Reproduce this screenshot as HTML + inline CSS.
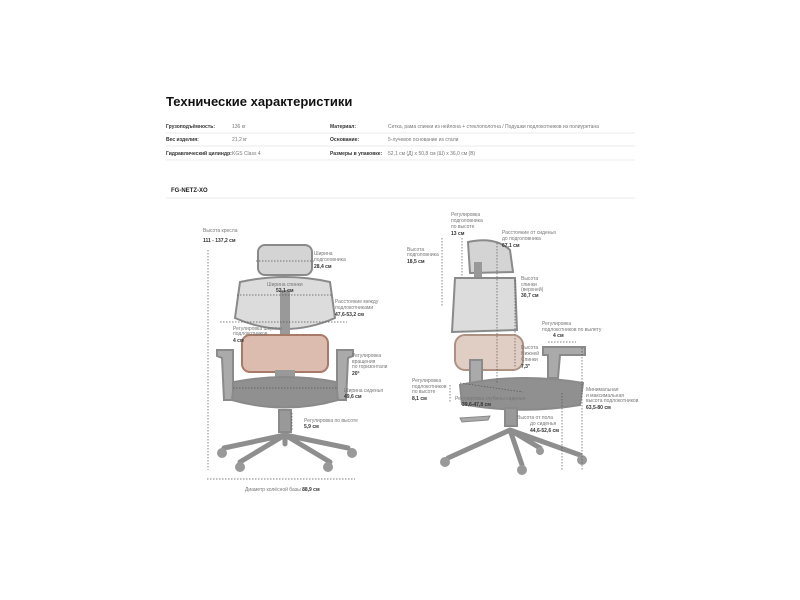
<!DOCTYPE html>
<html><head><meta charset="utf-8"><style>
body{margin:0;background:#fff;width:800px;height:600px;overflow:hidden}
svg{display:block}
text{font-family:"Liberation Sans",sans-serif;fill:#777;font-size:5px}
.b{font-weight:bold;fill:#333}
</style></head><body>
<svg width="800" height="600" viewBox="0 0 800 600">
<text x="166" y="106" style="font-size:13px;font-weight:bold;fill:#111">Технические характеристики</text>
<g style="font-size:4.5px">
<text x="166" y="128" class="b">Грузоподъёмность:</text><text x="232" y="128">136 кг</text>
<text x="330" y="128" class="b">Материал:</text><text x="388" y="128">Сетка, рама спинки из нейлона + стеклополотна / Подушки подлокотников из полиуретана</text>
<text x="166" y="141" class="b">Вес изделия:</text><text x="232" y="141">21,2 кг</text>
<text x="330" y="141" class="b">Основание:</text><text x="388" y="141">5-лучевое основание из стали</text>
<text x="166" y="155" class="b">Гидравлический цилиндр:</text><text x="232" y="155">KGS Class 4</text>
<text x="330" y="155" class="b">Размеры в упаковке:</text><text x="388" y="155">52,1 см (Д) x 50,8 см (Ш) x 36,0 см (В)</text>
</g>
<g stroke="#e4e4e4" stroke-width="0.8">
<line x1="166" y1="133" x2="635" y2="133"/><line x1="166" y1="146" x2="635" y2="146"/><line x1="166" y1="160" x2="635" y2="160"/><line x1="166" y1="198" x2="635" y2="198"/>
</g>
<text x="171" y="192" style="font-size:6px;font-weight:bold;fill:#222">FG-NETZ-XO</text>

<!-- front chair -->
<g fill="#d4d4d4" stroke="#8a8a8a" stroke-width="2">
<rect x="258" y="245" width="54" height="30" rx="7"/>
<path d="M240 282 Q285 272 330 282 L335 318 Q285 340 235 318Z" fill="#dcdcdc"/>
<rect x="280" y="290" width="10" height="50" fill="#999" stroke="none"/>
<rect x="242" y="335" width="86" height="37" rx="8" fill="#dcbcae" stroke="#a87a68"/>
<rect x="275" y="370" width="20" height="12" fill="#999" stroke="none"/>
<path d="M217 350 L233 350 L233 400 L224 400 L222 358 L217 356Z" fill="#aaa"/>
<path d="M337 350 L353 350 L353 356 L348 358 L346 400 L337 400Z" fill="#aaa"/>
<path d="M234 382 Q285 372 336 382 L338 400 Q285 415 232 400Z" fill="#909090"/>
<rect x="279" y="410" width="12" height="22" fill="#999"/>
</g>
<g stroke="#8e8e8e" stroke-width="5" stroke-linecap="round" fill="none">
<path d="M285 435 L240 462 M285 435 L330 462 M285 435 L224 448 M285 435 L348 448 M285 435 L285 444"/>
</g>
<g fill="#999"><circle cx="240" cy="467" r="5"/><circle cx="328" cy="467" r="5"/><circle cx="222" cy="453" r="5"/><circle cx="352" cy="453" r="5"/></g>
<g stroke="#555" stroke-width="0.7" stroke-dasharray="1.5,1.5" fill="none">
<line x1="208" y1="250" x2="208" y2="470"/><line x1="207" y1="479" x2="355" y2="479"/>
<line x1="256" y1="261" x2="314" y2="261"/><line x1="237" y1="295" x2="333" y2="295"/>
<line x1="220" y1="322" x2="347" y2="322"/><line x1="233" y1="388" x2="337" y2="388"/>
<line x1="292" y1="413" x2="292" y2="430"/>
</g>
<text x="203" y="232">Высота кресла</text><text x="203" y="242" class="b">111 - 137,2 см</text>
<text x="314" y="255">Ширина</text><text x="314" y="261">подголовника</text><text x="314" y="268" class="b">28,4 см</text>
<text x="267" y="286">Ширина спинки</text><text x="276" y="292" class="b">52,1 см</text>
<text x="335" y="303">Расстояние между</text><text x="335" y="309">подлокотниками</text><text x="335" y="316" class="b">47,6-53,2 см</text>
<text x="233" y="330">Регулировка ширины</text><text x="233" y="335">подлокотников</text><text x="233" y="342" class="b">4 см</text>
<text x="352" y="357">Регулировка</text><text x="352" y="363">вращения</text><text x="352" y="368">по горизонтали</text><text x="352" y="375" class="b">20°</text>
<text x="344" y="392">Ширина сиденья</text><text x="344" y="398" class="b">49,6 см</text>
<text x="304" y="422">Регулировка по высоте</text><text x="304" y="428" class="b">5,9 см</text>
<text x="245" y="491">Диаметр колёсной базы <tspan class="b">88,9 см</tspan></text>

<!-- side chair -->
<g fill="#d4d4d4" stroke="#8a8a8a" stroke-width="2">
<path d="M468 242 Q495 236 510 250 L513 272 L470 273Z"/>
<rect x="474" y="262" width="8" height="40" fill="#999" stroke="none"/>
<path d="M455 278 L515 278 L517 330 L452 332Z" fill="#dcdcdc"/>
<rect x="455" y="335" width="68" height="35" rx="10" fill="#e0cdc4" stroke="#ad9284"/>
<rect x="470" y="360" width="12" height="25" fill="#aaa"/>
<path d="M543 347 L585 347 L585 355 L560 355 L558 378 L548 378 L548 355 L543 355Z" fill="#aaa"/>
<path d="M460 385 Q520 372 583 383 L580 405 Q520 415 462 404Z" fill="#909090"/>
<rect x="505" y="408" width="12" height="18" fill="#999"/>
<path d="M460 418 L490 416 L488 420 L462 422Z" fill="#aaa" stroke-width="1"/>
</g>
<g stroke="#8e8e8e" stroke-width="5" stroke-linecap="round" fill="none">
<path d="M510 430 L448 458 M510 430 L522 465 M510 430 L580 455 M510 430 L540 448"/>
</g>
<g fill="#999"><circle cx="445" cy="462" r="5"/><circle cx="522" cy="470" r="5"/><circle cx="582" cy="460" r="5"/><circle cx="540" cy="451" r="4"/></g>
<g stroke="#555" stroke-width="0.7" stroke-dasharray="1.5,1.5" fill="none">
<line x1="442" y1="238" x2="442" y2="307"/><line x1="462" y1="238" x2="462" y2="276"/>
<line x1="497" y1="243" x2="497" y2="384"/><line x1="515" y1="280" x2="515" y2="335"/>
<line x1="515" y1="338" x2="515" y2="368"/><line x1="548" y1="342" x2="576" y2="342"/>
<line x1="582" y1="348" x2="582" y2="470"/><line x1="562" y1="393" x2="562" y2="470"/>
<line x1="450" y1="385" x2="450" y2="403"/><line x1="460" y1="383" x2="523" y2="392"/>
</g>
<text x="451" y="216">Регулировка</text><text x="451" y="222">подголовника</text><text x="451" y="228">по высоте</text><text x="451" y="235" class="b">13 см</text>
<text x="502" y="234">Расстояние от сиденья</text><text x="502" y="240">до подголовника</text><text x="502" y="247" class="b">67,1 см</text>
<text x="407" y="251">Высота</text><text x="407" y="256">подголовника</text><text x="407" y="263" class="b">18,5 см</text>
<text x="521" y="280">Высота</text><text x="521" y="286">спинки</text><text x="521" y="291">(верхней)</text><text x="521" y="297" class="b">30,7 см</text>
<text x="542" y="325">Регулировка</text><text x="542" y="331">подлокотников по вылету</text><text x="553" y="337" class="b">4 см</text>
<text x="521" y="349">Высота</text><text x="521" y="355">Нижней</text><text x="521" y="361">Спинки</text><text x="521" y="368" class="b">7,3"</text>
<text x="412" y="382">Регулировка</text><text x="412" y="388">подлокотников</text><text x="412" y="393">по высоте</text><text x="412" y="400" class="b">8,1 см</text>
<text x="455" y="400">Регулировка глубины сиденья</text><text x="462" y="406" class="b">39,6-47,8 см</text>
<text x="586" y="391">Минимальная</text><text x="586" y="397">и максимальная</text><text x="586" y="402">высота подлокотников</text><text x="586" y="409" class="b">63,5-80 см</text>
<text x="517" y="419">Высота от пола</text><text x="530" y="425">до сиденья</text><text x="530" y="432" class="b">44,6-52,6 см</text>
</svg>
</body></html>
